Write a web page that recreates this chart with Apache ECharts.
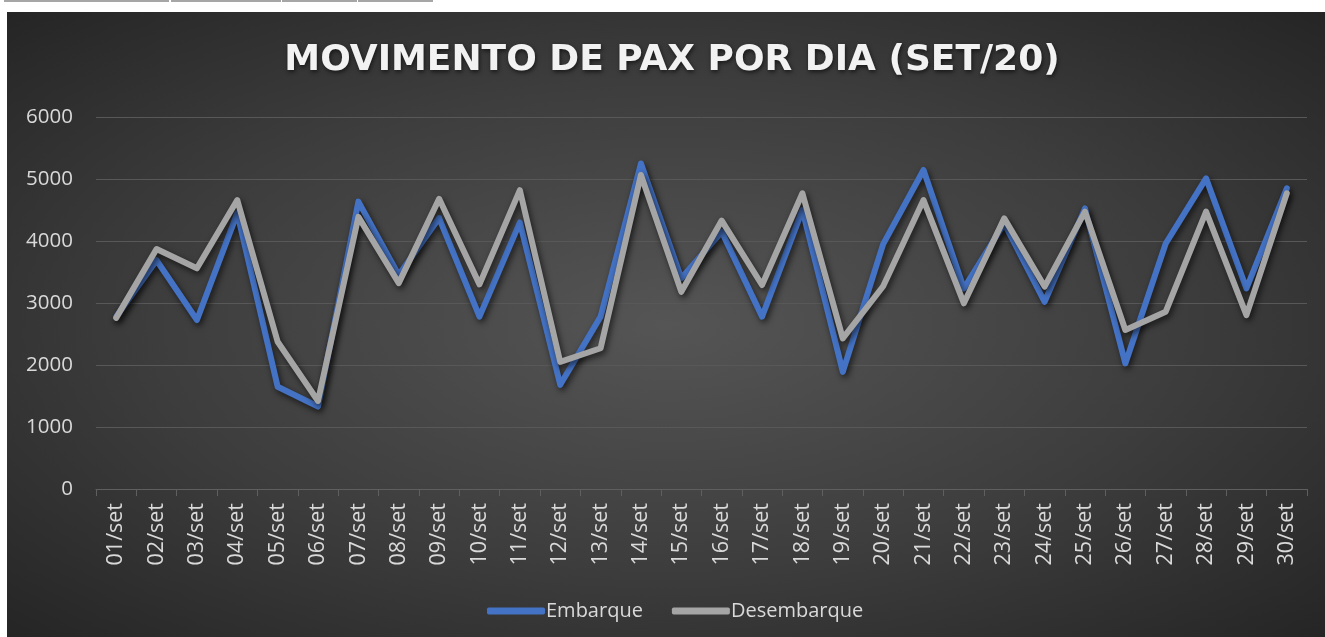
<!DOCTYPE html>
<html>
<head>
<meta charset="utf-8">
<script src="https://cdn.jsdelivr.net/npm/echarts@6/dist/echarts.min.js"></script>
<style>
  html, body { margin: 0; padding: 0; width: 1325px; height: 637px; background: #ffffff; overflow: hidden; }
  #bg { position: absolute; left: 7px; top: 12px; width: 1318px; height: 625px;
        background: radial-gradient(ellipse farthest-corner at 50% 50%, #555555 0%, #3d3d3d 55%, #252525 100%); }
  .cell { position: absolute; top: 0; height: 2px; background: #a6a6a6; }
  #chart { position: absolute; left: 0; top: 0; width: 1325px; height: 637px; }
</style>
</head>
<body>
<div class="cell" style="left:4px;width:165px"></div>
<div class="cell" style="left:171px;width:110px"></div>
<div class="cell" style="left:282px;width:75px"></div>
<div class="cell" style="left:358px;width:75px"></div>
<div id="bg"></div>
<div id="chart"></div>
<script>
const titleText = 'MOVIMENTO DE PAX POR DIA (SET/20)';
const categories = ['01/set','02/set','03/set','04/set','05/set','06/set','07/set','08/set','09/set','10/set',
  '11/set','12/set','13/set','14/set','15/set','16/set','17/set','18/set','19/set','20/set',
  '21/set','22/set','23/set','24/set','25/set','26/set','27/set','28/set','29/set','30/set'];
const embarque = [2780, 3690, 2725, 4450, 1650, 1330, 4635, 3450, 4370, 2780,
  4300, 1680, 2780, 5250, 3400, 4150, 2780, 4500, 1890, 3950,
  5145, 3235, 4285, 3020, 4525, 2025, 3960, 5010, 3235, 4850];
const desembarque = [2760, 3870, 3560, 4660, 2375, 1420, 4390, 3320, 4680, 3300,
  4820, 2050, 2270, 5065, 3180, 4330, 3290, 4770, 2430, 3270,
  4660, 2995, 4365, 3265, 4475, 2565, 2860, 4475, 2805, 4770];
const seriesNames = ['Embarque', 'Desembarque'];
const yMin = 0, yMax = 6000, yStep = 1000;

const font = '"Open Sans", "Noto Sans", sans-serif';
const textColor = '#d9d9d9';
const chart = echarts.init(document.getElementById('chart'), null, { renderer: 'canvas' });
const lineShadow = { shadowColor: 'rgba(0,0,0,0.65)', shadowBlur: 6, shadowOffsetX: 2, shadowOffsetY: 3 };

chart.setOption({
  backgroundColor: 'transparent',
  animation: false,
  title: {
    text: titleText,
    left: 667, top: 38, textAlign: 'center',
    textStyle: {
      fontFamily: '"DejaVu Sans", sans-serif', fontWeight: 'bold', fontSize: 36, color: '#f2f2f2',
      textShadowColor: 'rgba(0,0,0,0.6)', textShadowBlur: 4, textShadowOffsetX: 1, textShadowOffsetY: 2
    }
  },
  legend: {
    data: seriesNames,
    left: 482, top: 596,
    itemWidth: 58, itemHeight: 7, itemGap: 29,
    icon: 'roundRect',
    textStyle: { color: textColor, fontSize: 20, fontFamily: font, padding: [0, 0, 0, -4] }
  },
  grid: { left: 96, right: 18, top: 117, bottom: 148, containLabel: false },
  xAxis: {
    type: 'category',
    data: categories,
    boundaryGap: true,
    axisLine: { lineStyle: { color: '#5f5f5f', width: 1 } },
    axisTick: { show: true, length: 7, lineStyle: { color: '#5f5f5f' } },
    axisLabel: { interval: 0, rotate: 90, margin: 14, color: textColor, fontSize: 21.5, fontFamily: font },
    splitLine: { show: false }
  },
  yAxis: {
    type: 'value',
    min: yMin, max: yMax, interval: yStep,
    axisLine: { show: false },
    axisTick: { show: false },
    axisLabel: { margin: 23, color: textColor, fontSize: 20.5, fontFamily: font, formatter: v => String(v) },
    splitLine: { lineStyle: { color: '#585858', width: 1 } }
  },
  series: [
    {
      name: seriesNames[0], type: 'line', data: embarque,
      symbol: 'none', showSymbol: false,
      itemStyle: { color: '#4472C4' },
      lineStyle: Object.assign({ color: '#4472C4', width: 6, cap: 'round', join: 'round' }, lineShadow)
    },
    {
      name: seriesNames[1], type: 'line', data: desembarque,
      symbol: 'none', showSymbol: false,
      itemStyle: { color: '#A5A5A5' },
      lineStyle: Object.assign({ color: '#A5A5A5', width: 6, cap: 'round', join: 'round' }, lineShadow)
    }
  ]
});
</script>
</body>
</html>
